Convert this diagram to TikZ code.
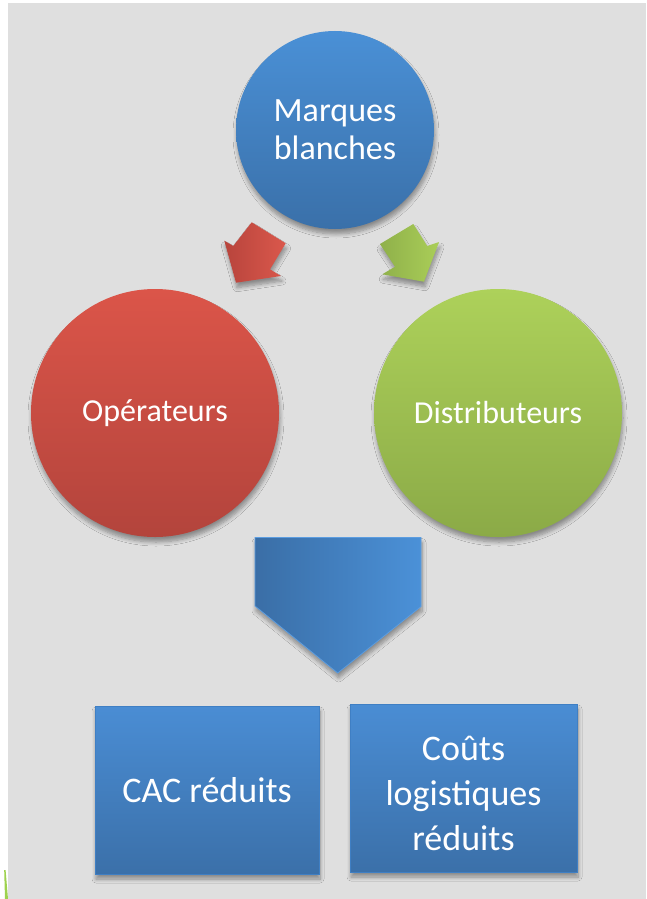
\documentclass[tikz,border=0pt]{standalone}
\usepackage{fontspec}
\setmainfont{Carlito}
\usetikzlibrary{shadows.blur}
\definecolor{bg}{HTML}{DFDFDF}
\definecolor{blueT}{HTML}{4A90D6}
\definecolor{blueB}{HTML}{3A70A9}
\definecolor{redT}{HTML}{DB5549}
\definecolor{redB}{HTML}{B3443C}
\definecolor{greenT}{HTML}{ADD15A}
\definecolor{greenB}{HTML}{8BAA47}
\definecolor{redL}{HTML}{B8443C}
\definecolor{redR}{HTML}{DA584C}
\definecolor{greenL}{HTML}{8FB04A}
\definecolor{greenR}{HTML}{AACE58}
\definecolor{penL}{HTML}{3A6EA6}
\definecolor{penR}{HTML}{4B91D8}
\definecolor{penEdge}{HTML}{5C9DE0}
\definecolor{rectT}{HTML}{4A8DD4}
\definecolor{rectB}{HTML}{3B70A9}
\definecolor{rectEdge}{HTML}{3F7FC4}
\definecolor{sliver}{HTML}{9ED24E}
\tikzset{
  shad/.style={blur shadow={shadow xshift=1pt, shadow yshift=-5pt, shadow blur steps=8, shadow opacity=38, shadow blur radius=4pt}},
  ball/.style={circle, shad, minimum size=#1, inner sep=0pt, text=white, align=center, font=\fontsize{32}{37}\selectfont},
  resbox/.style={rectangle, shad, inner sep=0pt, text=white, align=center, font=\fontsize{36}{45}\selectfont, draw=rectEdge, line width=0.8pt, top color=rectT, bottom color=rectB},
  restext/.style={text=white, align=center, inner sep=0pt, font=\fontsize{36}{45}\selectfont},
}
\begin{document}
\begin{tikzpicture}[x=1pt,y=-1pt]
\useasboundingbox (0,0) rectangle (646,899);
\fill[white] (0,0) rectangle (646,899);
\fill[bg] (8,3) rectangle (646,899);
\fill[sliver] (4.2,870) -- (5.6,870) -- (8,899) -- (5,899) -- cycle;

% circles
\node[ball=198pt, top color=blueT, bottom color=blueB, font=\fontsize{34}{38}\selectfont] (mb) at (335,130) {Marques\\blanches};
\node[ball=248pt, top color=redT, bottom color=redB] (op) at (155,413) {Opérateurs};
\node[ball=248pt, top color=greenT, bottom color=greenB] (di) at (498,413) {Distributeurs};

% block arrows
\path[shad, left color=redL, right color=redR]
  (251.7,222.3) -- (285.7,243.3) -- (270,269.3) -- (281,276) -- (236,282.7)
  -- (224.3,240.7) -- (233.3,246) -- cycle;
\path[shad, left color=greenL, right color=greenR]
  (413.3,224) -- (427.3,246) -- (439,242) -- (424,281.7) -- (382.3,274.3)
  -- (395,266.7) -- (380,244) -- cycle;

% pentagon arrow
\path[shad, left color=penL, right color=penR, draw=penEdge, line width=0.8pt]
  (255,537.5) -- (421,537.5) -- (421,606.5) -- (337.7,673) -- (255,606) -- cycle;

% result boxes
\node[resbox, minimum width=224pt, minimum height=168pt] (cac) at (207,790) {CAC réduits};
\node[resbox, minimum width=227pt, minimum height=168pt] (cl) at (463.5,788) {};
\node[restext] (clt) at ([yshift=-5pt]cl.center) {Coûts\\logistiques\\réduits};
\end{tikzpicture}
\end{document}
